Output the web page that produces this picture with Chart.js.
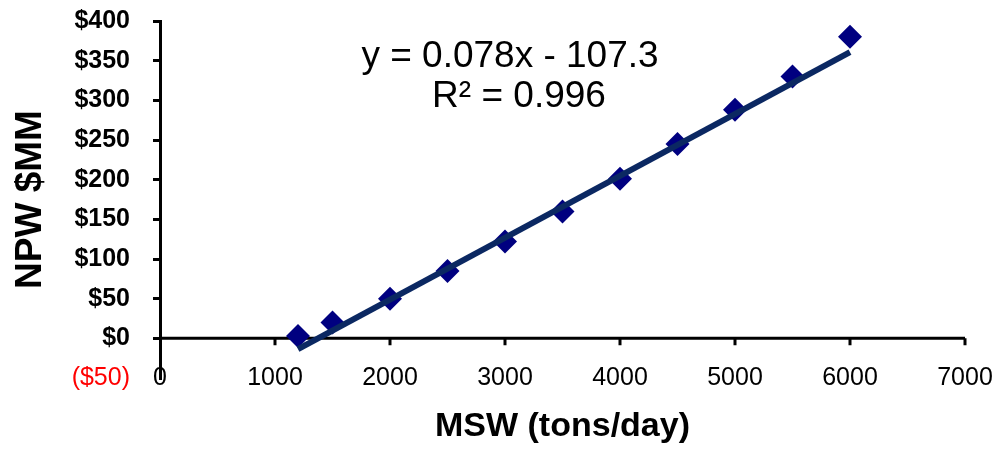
<!DOCTYPE html>
<html>
<head>
<meta charset="utf-8">
<script src="https://cdn.jsdelivr.net/npm/chart.js@4.4.1/dist/chart.umd.min.js"></script>
<style>
  html, body { margin: 0; padding: 0; background: #fff; }
  #wrap { width: 994px; height: 450px; }
</style>
</head>
<body>
<div id="wrap"><canvas id="chart" width="994" height="450"></canvas></div>
<script>
// MSW throughput (tons/day) vs NPW ($MM)
const msw = [1200, 1500, 2000, 2500, 3000, 3500, 4000, 4500, 5000, 5500, 6000];
const npw = [3, 20, 50, 85, 122, 160, 201, 245, 288, 330, 380];

// linear trendline as printed on the chart
const slope = 0.078;
const intercept = -107.3;
const r2 = 0.996;

const xTicks = [0, 1000, 2000, 3000, 4000, 5000, 6000, 7000];
const yTicks = [-50, 0, 50, 100, 150, 200, 250, 300, 350, 400];

const FONT = '"Liberation Sans", Arial, Helvetica, sans-serif';

const points = msw.map((x, i) => ({ x: x, y: npw[i] }));
const xFirst = msw[0];
const xLast = msw[msw.length - 1];
const trend = [
    { x: xFirst, y: slope * xFirst + intercept },
    { x: xLast, y: slope * xLast + intercept },
];

function money(v) {
    return v < 0 ? '($' + (-v) + ')' : '$' + v;
}

function noPad(s) {
    s.paddingTop = 0;
    s.paddingBottom = 0;
    s.paddingLeft = 0;
    s.paddingRight = 0;
}

// x axis sits on y = 0, labels stay at the bottom (Excel style)
const zeroAxis = {
    id: 'zeroAxis',
    beforeDatasetsDraw(chart) {
        const { ctx, scales: { x, y } } = chart;
        const y0 = y.getPixelForValue(0);
        ctx.save();
        ctx.strokeStyle = '#000';
        ctx.lineWidth = 3;
        ctx.beginPath();
        ctx.moveTo(x.left, y0);
        ctx.lineTo(x.right, y0);
        x.ticks.forEach((t) => {
            if (t.value === 0) return;
            const px = x.getPixelForValue(t.value);
            ctx.moveTo(px, y0);
            ctx.lineTo(px, y0 + 7);
        });
        ctx.stroke();
        ctx.restore();
    },
    afterDraw(chart) {
        const { ctx } = chart;
        ctx.save();
        ctx.fillStyle = '#000';
        ctx.font = '37px ' + FONT;
        ctx.textAlign = 'center';
        ctx.textBaseline = 'middle';
        ctx.fillText('y = ' + slope + 'x - ' + (-intercept), 510, 57);
        ctx.fillText('R\u00B2 = ' + r2, 519, 97);
        ctx.restore();
    },
};

new Chart(document.getElementById('chart'), {
    type: 'scatter',
    data: {
        datasets: [
            {
                label: 'Linear (NPW)',
                type: 'line',
                data: trend,
                borderColor: '#0b2862',
                borderWidth: 6,
                pointRadius: 0,
                fill: false,
                order: 0,
            },
            {
                label: 'NPW',
                data: points,
                pointStyle: 'rectRot',
                pointRadius: 12,
                backgroundColor: '#000080',
                borderColor: '#000080',
                borderWidth: 0,
                order: 1,
            },
        ],
    },
    options: {
        responsive: false,
        animation: false,
        layout: { padding: { left: 0, right: 29, top: 21, bottom: 0 } },
        plugins: {
            legend: { display: false },
            tooltip: { enabled: false },
        },
        scales: {
            x: {
                type: 'linear',
                min: xTicks[0],
                max: xTicks[xTicks.length - 1],
                afterBuildTicks: (s) => { s.ticks = xTicks.map((v) => ({ value: v })); },
                afterFit: (s) => { s.height = 72; noPad(s); },
                border: { display: false },
                grid: { display: false, drawTicks: false },
                ticks: {
                    color: '#000',
                    mirror: true,
                    padding: -15,
                    callback: (v) => String(v),
                    font: { family: FONT, size: 25 },
                    maxRotation: 0,
                },
                title: {
                    display: true,
                    text: 'MSW (tons/day)',
                    color: '#000',
                    font: { family: FONT, size: 34, weight: 'bold' },
                    padding: { top: 0, bottom: 3 },
                },
            },
            y: {
                type: 'linear',
                min: yTicks[0],
                max: yTicks[yTicks.length - 1],
                afterBuildTicks: (s) => { s.ticks = yTicks.map((v) => ({ value: v })); },
                afterFit: (s) => { s.width = 160; noPad(s); },
                border: { display: true, color: '#000', width: 3 },
                grid: {
                    drawOnChartArea: false,
                    drawTicks: true,
                    tickLength: 7,
                    lineWidth: 3,
                    color: (c) => (c.tick && c.tick.value < 0 ? 'rgba(0,0,0,0)' : '#000'),
                },
                ticks: {
                    padding: 23,
                    callback: (v) => money(v),
                    color: (c) => (c.tick && c.tick.value < 0 ? '#ff0000' : '#000'),
                    font: (c) => ({
                        family: FONT,
                        size: 25,
                        weight: c.tick && c.tick.value < 0 ? 'normal' : 'bold',
                    }),
                },
                title: {
                    display: true,
                    text: 'NPW $MM',
                    color: '#000',
                    font: { family: FONT, size: 37, weight: 'bold' },
                    padding: { top: 9, bottom: 0 },
                },
            },
        },
    },
    plugins: [zeroAxis],
});
</script>
</body>
</html>
